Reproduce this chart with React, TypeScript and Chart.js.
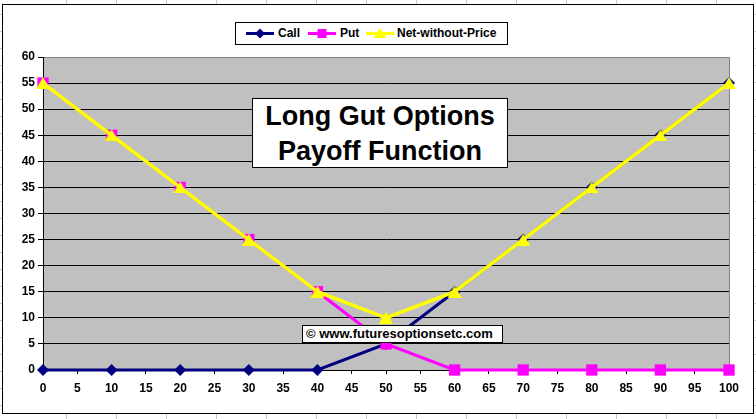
import React, { useEffect, useRef } from "react";
import { Chart, registerables } from "chart.js";

Chart.register(...registerables);

// ---- data ----
const strikes = [0, 10, 20, 30, 40, 50, 60, 70, 80, 90, 100];
const callValues = [0, 0, 0, 0, 0, 5, 15, 25, 35, 45, 55];
const putValues = [55, 45, 35, 25, 15, 5, 0, 0, 0, 0, 0];
const netValues = [55, 45, 35, 25, 15, 10, 15, 25, 35, 45, 55];
const seriesNames = ["Call", "Put", "Net-without-Price"];
const titleLines = ["Long Gut Options", "Payoff Function"];
const watermarkText = "© www.futuresoptionsetc.com";
const xMin = 0;
const xMax = 100;
const xStep = 5;
const yMin = 0;
const yMax = 60;
const yStep = 5;

const FONT = "'Liberation Sans', Arial, Helvetica, sans-serif";
const CALL_COLOR = "#000080";
const PUT_COLOR = "#FF00FF";
const NET_COLOR = "#FFFF00";

const plotBg = {
  id: "plotBg",
  beforeDraw(chart: any) {
    const { ctx, chartArea: a } = chart;
    ctx.save();
    ctx.fillStyle = "#C0C0C0";
    ctx.fillRect(a.left, a.top, a.right - a.left, a.bottom - a.top);
    ctx.strokeStyle = "#808080";
    ctx.lineWidth = 1;
    ctx.beginPath();
    ctx.moveTo(a.left, Math.round(a.top) + 0.5);
    ctx.lineTo(Math.round(a.right) + 0.5, Math.round(a.top) + 0.5);
    ctx.lineTo(Math.round(a.right) + 0.5, a.bottom);
    ctx.stroke();
    ctx.restore();
  },
};

function makeTriangle(color: string) {
  const c = document.createElement("canvas");
  c.width = 14;
  c.height = 12;
  const g = c.getContext("2d")!;
  g.fillStyle = color;
  g.beginPath();
  g.moveTo(7, 0);
  g.lineTo(14, 12);
  g.lineTo(0, 12);
  g.closePath();
  g.fill();
  return c;
}

function LegendSymbol({ kind, color }: { kind: string; color: string }) {
  let marker: any = null;
  if (kind === "diamond") {
    marker = <polygon points="14,0.5 19,5.5 14,10.5 9,5.5" fill={color} />;
  } else if (kind === "square") {
    marker = <rect x="9.5" y="1" width="9" height="9" fill={color} />;
  } else {
    marker = <polygon points="14,0 20.5,10 7.5,10" fill={color} />;
  }
  return (
    <svg width="28" height="11" style={{ display: "block" }}>
      <line x1="0" y1="5.5" x2="28" y2="5.5" stroke={color} strokeWidth="3" />
      {marker}
    </svg>
  );
}

export default function App() {
  const canvasRef = useRef<HTMLCanvasElement | null>(null);

  useEffect(() => {
    const canvas = canvasRef.current;
    if (!canvas) return;
    const toPts = (vals: number[]) => strikes.map((x, i) => ({ x, y: vals[i] }));
    const tickFont = { family: FONT, size: 12, weight: "bold" as const };
    const tri = makeTriangle(NET_COLOR);
    const chart = new Chart(canvas, {
      type: "line",
      data: {
        datasets: [
          {
            label: seriesNames[0],
            data: toPts(callValues),
            borderColor: CALL_COLOR,
            backgroundColor: CALL_COLOR,
            borderWidth: 3,
            pointStyle: "rectRot",
            pointRadius: 6,
            pointBorderWidth: 0,
            tension: 0,
            order: 3,
            clip: false as any,
          },
          {
            label: seriesNames[1],
            data: toPts(putValues),
            borderColor: PUT_COLOR,
            backgroundColor: PUT_COLOR,
            borderWidth: 3,
            pointStyle: "rect",
            pointRadius: 8,
            pointBorderWidth: 0,
            tension: 0,
            order: 2,
            clip: false as any,
          },
          {
            label: seriesNames[2],
            data: toPts(netValues),
            borderColor: NET_COLOR,
            backgroundColor: NET_COLOR,
            borderWidth: 3.5,
            pointStyle: tri as any,
            pointRadius: 7,
            pointBorderWidth: 0,
            tension: 0,
            order: 1,
            clip: false as any,
          },
        ],
      },
      options: {
        responsive: false,
        animation: false,
        devicePixelRatio: 1,
        layout: { padding: { top: 57, right: 27, left: 0, bottom: 0 } },
        plugins: {
          legend: { display: false },
          tooltip: { enabled: false },
          title: { display: false },
        },
        scales: {
          x: {
            type: "linear",
            min: xMin,
            max: xMax,
            ticks: {
              stepSize: xStep,
              color: "#000",
              font: tickFont,
              padding: 7,
              maxRotation: 0,
              autoSkip: false,
            },
            grid: {
              drawOnChartArea: false,
              drawTicks: true,
              tickLength: 4,
              color: "#000",
            },
            border: { color: "#000", width: 1 },
            afterFit(s: any) {
              s.height = 49;
            },
          },
          y: {
            type: "linear",
            min: yMin,
            max: yMax,
            ticks: {
              stepSize: yStep,
              color: "#000",
              font: tickFont,
              padding: 3,
            },
            grid: {
              color: (c: any) => (c.tick && c.tick.value === yMax ? "#808080" : "#000"),
              tickColor: "#000",
              tickLength: 5,
            },
            border: { color: "#000", width: 1 },
            afterFit(s: any) {
              s.width = 43;
            },
          },
        },
      } as any,
      plugins: [plotBg],
    });
    return () => chart.destroy();
  }, []);

  const legendItems = [
    { name: seriesNames[0], kind: "diamond", color: CALL_COLOR, symX: 10, textX: 42 },
    { name: seriesNames[1], kind: "square", color: PUT_COLOR, symX: 72, textX: 104 },
    { name: seriesNames[2], kind: "triangle", color: NET_COLOR, symX: 130, textX: 161 },
  ];

  return (
    <div
      style={{
        position: "absolute",
        left: 0,
        top: 0,
        width: 756,
        height: 419,
        overflow: "hidden",
        background: "#fff",
        fontFamily: FONT,
      }}
    >
      {/* spreadsheet cell grid behind the chart object */}
      <div
        style={{
          position: "absolute",
          left: 0,
          top: 0,
          right: 0,
          bottom: 0,
          backgroundImage: "linear-gradient(to bottom, #c8c8c8 1px, transparent 1px)",
          backgroundSize: "100% 17px",
          backgroundPosition: "0 14px",
        }}
      />
      <div
        style={{
          position: "absolute",
          left: 17,
          top: 0,
          right: 0,
          bottom: 0,
          backgroundImage: "linear-gradient(to right, #c8c8c8 1px, transparent 1px)",
          backgroundSize: "50px 100%",
          backgroundPosition: "49px 0",
        }}
      />
      {/* chart frame */}
      <div
        style={{
          position: "absolute",
          left: 2,
          top: 4,
          width: 750,
          height: 408,
          border: "1px solid #000",
          background: "#fff",
        }}
      />
      <canvas
        ref={canvasRef}
        width={756}
        height={419}
        style={{ position: "absolute", left: 0, top: 0, width: 756, height: 419 }}
      />
      {/* legend */}
      <div
        style={{
          position: "absolute",
          left: 235,
          top: 22,
          width: 271,
          height: 21,
          border: "1px solid #000",
          background: "#fff",
        }}
      >
        {legendItems.map((it) => (
          <React.Fragment key={it.name}>
            <div style={{ position: "absolute", left: it.symX, top: 5 }}>
              <LegendSymbol kind={it.kind} color={it.color} />
            </div>
            <div
              style={{
                position: "absolute",
                left: it.textX,
                top: 0,
                lineHeight: "21px",
                fontSize: 12,
                fontWeight: "bold",
                color: "#000",
                whiteSpace: "nowrap",
              }}
            >
              {it.name}
            </div>
          </React.Fragment>
        ))}
      </div>
      {/* title box */}
      <div
        style={{
          position: "absolute",
          left: 252,
          top: 98,
          width: 254,
          height: 68,
          border: "1px solid #000",
          background: "#fff",
          textAlign: "center",
          fontSize: 27,
          fontWeight: "bold",
          lineHeight: "35px",
          color: "#000",
          whiteSpace: "nowrap",
        }}
      >
        {titleLines.map((l) => (
          <div key={l}>{l}</div>
        ))}
      </div>
      {/* watermark */}
      <div
        style={{
          position: "absolute",
          left: 302,
          top: 325,
          width: 196,
          height: 16,
          paddingLeft: 3,
          border: "1px solid #000",
          background: "#fff",
          fontSize: 13,
          fontWeight: "bold",
          lineHeight: "16px",
          color: "#000",
          whiteSpace: "nowrap",
        }}
      >
        {watermarkText}
      </div>
    </div>
  );
}
